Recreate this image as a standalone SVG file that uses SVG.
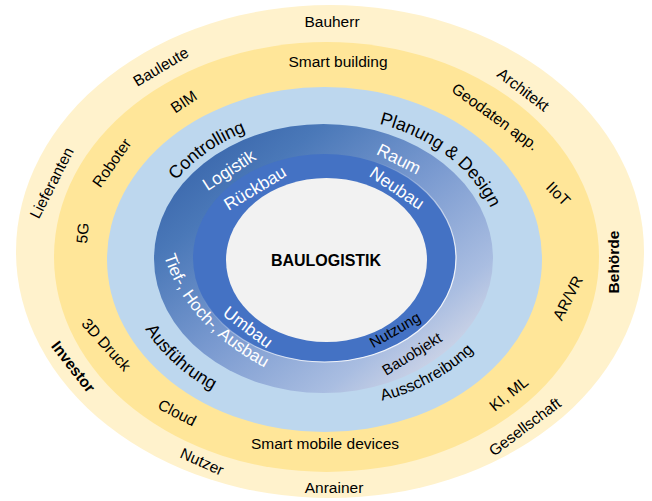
<svg xmlns="http://www.w3.org/2000/svg" width="652" height="501" viewBox="0 0 652 501">
<defs>
  <linearGradient id="ringGrad" x1="0" y1="0" x2="1" y2="1">
    <stop offset="0" stop-color="#2E5AA3"/>
    <stop offset="0.25" stop-color="#4A78B8"/>
    <stop offset="0.5" stop-color="#7A9AD0"/>
    <stop offset="0.75" stop-color="#A9BDE1"/>
    <stop offset="0.9" stop-color="#D6DAE8"/>
    <stop offset="1" stop-color="#E2E2EC"/>
  </linearGradient>
  <linearGradient id="edgeGrad" x1="0" y1="0" x2="1" y2="1">
    <stop offset="0.35" stop-color="#FFFFFF" stop-opacity="0"/>
    <stop offset="0.75" stop-color="#FFFFFF" stop-opacity="0.9"/>
  </linearGradient>
  <path id="pControlling" d="M147.4,248.2 A178,141 0 0,1 318.8,117.1"/>
  <path id="pPlanung" d="M294.3,119.1 A177,141 0 0,1 501.5,268.8"/>
  <path id="pAusf" d="M124.1,263 A201,159.5 0 0,0 278.4,413.2"/>
  <path id="pAussch" d="M308.5,407.1 A189.4,149.7 0 0,0 510.8,287.1"/>
  <path id="pTief" d="M164,256 Q187,329 273,372"/>
</defs>
<style>
  text { font-family: "Liberation Sans", Arial, sans-serif; }
  .lbl { font-size: 15.5px; fill: #000000; text-anchor: middle; }
  .big { font-size: 18px; fill: #000000; }
  .wht { font-size: 17.5px; fill: #FFFFFF; text-anchor: middle; }
  .sm { font-size: 15px; fill: #000000; text-anchor: middle; }
  .bold { font-weight: bold; }
</style>

<g id="rings">
  <ellipse id="ring-stakeholders" cx="330" cy="251.5" rx="314" ry="246.5" fill="#FFF2CC"/>
  <ellipse id="ring-technology" cx="326.5" cy="257" rx="272.5" ry="215" fill="#FFE699"/>
  <ellipse id="ring-phases" cx="324.5" cy="259.5" rx="217.5" ry="172.5" fill="#BDD7EE"/>
  <ellipse id="ring-areas" cx="323.5" cy="258.5" rx="169.5" ry="134.5" fill="url(#ringGrad)"/>
  <ellipse id="ring-construction" cx="324.5" cy="258" rx="131.5" ry="104" fill="#4472C4" stroke="url(#edgeGrad)" stroke-width="1.2"/>
  <ellipse id="core" cx="326.5" cy="260" rx="100.5" ry="82" fill="#F2F2F2"/>
</g>

<g id="stakeholder-labels">
  <text class="lbl" x="332" y="27">Bauherr</text>
  <text class="lbl" transform="translate(161 67) rotate(-31)" y="5">Bauleute</text>
  <text class="lbl" transform="translate(523 90) rotate(37)" y="5">Architekt</text>
  <text class="lbl" transform="translate(52 183) rotate(-63)" y="5">Lieferanten</text>
  <text class="lbl bold" transform="translate(614 262) rotate(-90)" y="5">Behörde</text>
  <text class="lbl bold" transform="translate(73 367) rotate(52)" y="5">Investor</text>
  <text class="lbl" transform="translate(202 462) rotate(24)" y="5">Nutzer</text>
  <text class="lbl" x="334" y="493">Anrainer</text>
  <text class="lbl" transform="translate(525 427) rotate(-37)" y="5">Gesellschaft</text>
</g>

<g id="technology-labels">
  <text class="lbl" x="338" y="67">Smart building</text>
  <text class="lbl" transform="translate(184 102) rotate(-34)" y="5">BIM</text>
  <text class="lbl" transform="translate(495 117) rotate(36)" y="5">Geodaten app.</text>
  <text class="lbl" transform="translate(112 163) rotate(-55)" y="5">Roboter</text>
  <text class="lbl" transform="translate(558 194) rotate(45)" y="5">IIoT</text>
  <text class="lbl" transform="translate(83 233) rotate(-85)" y="5">5G</text>
  <text class="lbl" transform="translate(568 298) rotate(-63)" y="5">AR/VR</text>
  <text class="lbl" transform="translate(106 345) rotate(48)" y="5">3D Druck</text>
  <text class="lbl" transform="translate(177 413) rotate(27)" y="5">Cloud</text>
  <text class="lbl" x="325" y="449">Smart mobile devices</text>
  <text class="lbl" transform="translate(509 394) rotate(-39)" y="5">KI, ML</text>
</g>

<g id="phase-labels">
  <text class="big" text-anchor="middle"><textPath href="#pControlling" startOffset="50%">Controlling</textPath></text>
  <text class="big" text-anchor="middle"><textPath href="#pPlanung" startOffset="54%">Planung &amp; Design</textPath></text>
  <text class="big" text-anchor="middle"><textPath href="#pAusf" startOffset="50%">Ausführung</textPath></text>
  <text class="lbl" style="font-size:16px"><textPath href="#pAussch" startOffset="50%">Ausschreibung</textPath></text>
</g>

<g id="area-labels">
  <text class="wht" transform="translate(229 170) rotate(-33)" y="6">Logistik</text>
  <text class="wht" transform="translate(399 159) rotate(27)" y="6">Raum</text>
  <text class="wht" style="text-anchor:start;font-size:17px"><textPath href="#pTief" startOffset="0">Tief-, Hoch-, Ausbau</textPath></text>
  <text class="sm" transform="translate(412 354) rotate(-32)" y="5">Bauobjekt</text>
</g>

<g id="construction-labels">
  <text class="wht" transform="translate(255 188) rotate(-31)" y="6">Rückbau</text>
  <text class="wht" transform="translate(397 188) rotate(34)" y="6">Neubau</text>
  <text class="wht" transform="translate(248 327) rotate(37)" y="6">Umbau</text>
  <text class="sm" transform="translate(395 330) rotate(-30)" y="5">Nutzung</text>
</g>

<g id="core-label">
  <text x="326" y="266" style="font-size:16px;font-weight:bold;text-anchor:middle;fill:#000000">BAULOGISTIK</text>
</g>
</svg>
